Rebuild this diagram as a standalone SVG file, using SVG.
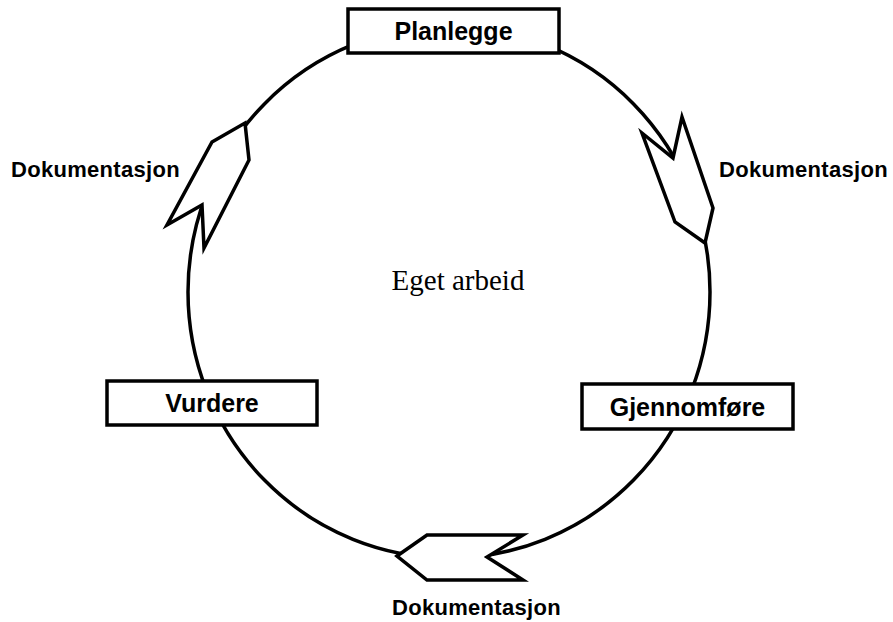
<svg xmlns="http://www.w3.org/2000/svg" width="893" height="622" viewBox="0 0 893 622">
<style>
.ln{fill:none;stroke:#000;stroke-width:3.5}
.box{fill:#fff;stroke:#000;stroke-width:3.5}
.arw{fill:#fff;stroke:#000;stroke-width:3.5;stroke-linejoin:miter}
.bt{font-family:"Liberation Sans",Arial,sans-serif;font-weight:bold;font-size:25px;text-anchor:middle;fill:#000}
.dk{font-family:"Liberation Sans",Arial,sans-serif;font-weight:bold;font-size:22px;letter-spacing:0.3px;fill:#000}
.ct{font-family:"Liberation Serif","Times New Roman",serif;font-size:29px;text-anchor:middle;fill:#000}
</style>
<rect width="893" height="622" fill="#fff"/>
<g id="connectors">
<ellipse class="ln" cx="449" cy="292" rx="261" ry="266"/>
<polygon class="arw" points="245,123 249,160 204,248 202,205 167,225 212,142"/>
<polygon class="arw" points="705,243 713,208 682,117 673,158 642,133 675,222"/>
<polygon class="arw" points="397,556 427,535 523,535 487,557 523,580 427,580"/>
</g>
<g id="planlegge">
<rect class="box" x="348" y="9" width="211" height="44"/>
<text class="bt" x="453.5" y="40">Planlegge</text>
</g>
<g id="gjennomfore">
<rect class="box" x="582" y="384" width="211" height="45"/>
<text class="bt" x="687.5" y="416">Gjennomføre</text>
</g>
<g id="vurdere">
<rect class="box" x="107" y="381" width="210" height="44"/>
<text class="bt" x="212" y="412">Vurdere</text>
</g>
<g id="labels">
<text class="dk" x="11" y="177">Dokumentasjon</text>
<text class="dk" x="719" y="177">Dokumentasjon</text>
<text class="dk" x="392" y="615">Dokumentasjon</text>
<text class="ct" x="458" y="290">Eget arbeid</text>
</g>
</svg>
